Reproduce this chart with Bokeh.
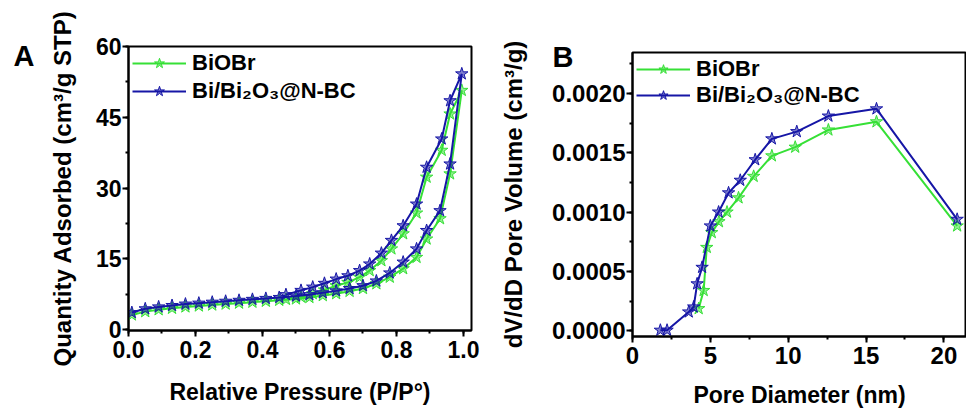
from bokeh.plotting import figure
from bokeh.models import (Range1d, SingleIntervalTicker, PrintfTickFormatter,
                          Legend, LegendItem, Title)
from bokeh.layouts import row
from bokeh.embed import file_html
from bokeh.resources import INLINE

# ---------------- data: panel A (N2 isotherms) ----------------
p_ads = [0.01, 0.05, 0.09, 0.13, 0.17, 0.21, 0.25, 0.29, 0.33, 0.37, 0.41, 0.45,
         0.50, 0.54, 0.58, 0.62, 0.66, 0.70, 0.74, 0.78, 0.82, 0.86, 0.89, 0.93,
         0.96, 0.995]
p_des = [0.96, 0.935, 0.89, 0.86, 0.82, 0.785, 0.755, 0.72, 0.69, 0.655, 0.62,
         0.585, 0.55, 0.515, 0.47]

biobr_ads = [3.1, 3.8, 4.2, 4.5, 4.8, 5.0, 5.2, 5.4, 5.6, 5.8, 6.0, 6.2,
             6.5, 6.8, 7.2, 7.6, 8.1, 8.7, 9.7, 11.1, 12.9, 15.3, 19.2, 23.5,
             33.0, 50.7]
biobr_des = [45.7, 38.0, 32.3, 24.7, 20.3, 17.1, 14.6, 12.5, 11.1, 10.0, 9.3,
             8.4, 7.6, 6.9, 6.4]

bibc_ads = [3.6, 4.4, 4.8, 5.1, 5.4, 5.6, 5.8, 6.0, 6.2, 6.4, 6.6, 6.8,
            7.1, 7.4, 7.8, 8.2, 8.7, 9.3, 10.3, 12.0, 14.3, 17.1, 21.0, 25.2,
            35.1, 54.2]
bibc_des = [48.5, 40.4, 34.4, 26.6, 22.0, 18.9, 16.2, 13.9, 12.5, 11.4, 10.7,
            9.8, 9.0, 8.3, 7.4]

# ---------------- data: panel B (pore size distribution) ----------------
d_biobr = [4.25, 4.57, 4.77, 5.09, 5.55, 6.07, 6.81, 7.78, 8.95, 10.45, 12.58,
           15.67, 20.85]
v_biobr = [0.000187, 0.00034, 0.000703, 0.000828, 0.00092, 0.001001, 0.001121,
           0.001302, 0.001475, 0.001548, 0.001693, 0.001762, 0.000884]

d_bibc = [1.79, 2.22, 3.61, 3.93, 4.15, 4.47, 5.0, 5.53, 6.17, 6.92, 7.88,
          8.95, 10.55, 12.58, 15.67, 20.85]
v_bibc = [0.000005, 0.000005, 0.000159, 0.000201, 0.000396, 0.000535, 0.000884,
          0.001001, 0.001163, 0.001269, 0.001442, 0.001618, 0.001679, 0.00181,
          0.001871, 0.00094]

labels = ["BiOBr", "Bi/Bi\u2082O\u2083@N-BC"]
panel_letters = ["A", "B"]
GREEN = "#36E036"
BLUE = "#1616A6"
FONT = "Liberation Sans"


def style_axes(p, tick_size, xtitle_size="23px", ytitle_size="24px"):
    for ax in (p.xaxis[0], p.yaxis[0]):
        ax.axis_line_width = 2
        ax.axis_line_color = "black"
        ax.major_tick_line_width = 2
        ax.minor_tick_line_width = 2
        ax.major_tick_out = 6
        ax.major_tick_in = 0
        ax.minor_tick_out = 3
        ax.minor_tick_in = 0
        ax.major_label_text_font = FONT
        ax.major_label_text_font_style = "bold"
        ax.major_label_text_font_size = tick_size
        ax.major_label_text_color = "black"
        ax.axis_label_text_font = FONT
        ax.axis_label_text_font_style = "bold"
        ax.axis_label_text_color = "black"
    p.xaxis.axis_label_text_font_size = xtitle_size
    p.yaxis.axis_label_text_font_size = ytitle_size
    p.xgrid.visible = False
    p.ygrid.visible = False
    p.outline_line_color = "black"
    p.outline_line_width = 2
    p.background_fill_color = "white"
    p.border_fill_color = "white"


def add_legend(p, items, margin, glyph_h, spacing):
    leg = Legend(items=items, location="top_left", margin=margin, padding=0,
                 glyph_width=54, glyph_height=glyph_h, label_standoff=6,
                 spacing=spacing, border_line_alpha=0, background_fill_alpha=0,
                 label_text_font=FONT, label_text_font_style="bold",
                 label_text_font_size="22px", label_text_color="black",
                 label_height=glyph_h)
    p.add_layout(leg, "center")


def letter(text, offset, standoff):
    return Title(text=text, align="left", offset=offset, standoff=standoff,
                 vertical_align="bottom", text_font=FONT, text_font_style="bold",
                 text_font_size="29px", text_color="black")


# ---------------- panel A ----------------
pa = figure(width=480, height=410, output_backend="svg", toolbar_location=None,
            x_range=Range1d(0, 1.024), y_range=Range1d(-0.2, 60),
            min_border_left=128, min_border_right=9, min_border_top=46,
            min_border_bottom=80, frame_align=False)
style_axes(pa, "23px")
pa.xaxis.ticker = SingleIntervalTicker(interval=0.2, num_minor_ticks=2)
pa.yaxis.ticker = SingleIntervalTicker(interval=15, num_minor_ticks=2)
pa.xaxis.formatter = PrintfTickFormatter(format="%.1f")
pa.xaxis.axis_label = "Relative Pressure (P/P\u00b0)"
pa.yaxis.axis_label = "Quantity Adsorbed (cm\u00b3/g STP)"
pa.xaxis.major_label_standoff = 4
pa.yaxis.major_label_standoff = 1
pa.xaxis.axis_label_standoff = 18
pa.yaxis.axis_label_standoff = 17
pa.title = letter(panel_letters[0], offset=-115, standoff=-50)

items_a = []
for xs, ys, col, lab in [(p_ads + p_des, biobr_ads + biobr_des, GREEN, labels[0]),
                         (p_ads + p_des, bibc_ads + bibc_des, BLUE, labels[1])]:
    ln = pa.line(xs, ys, line_color=col, line_width=2)
    sc = pa.scatter(xs, ys, marker="star", size=13, line_color=col,
                    fill_color=col, fill_alpha=0.55, line_width=1)
    items_a.append(LegendItem(label=lab, renderers=[ln, sc]))
add_legend(pa, items_a, margin=4, glyph_h=26, spacing=2)

# ---------------- panel B ----------------
pb = figure(width=486, height=410, output_backend="svg", toolbar_location=None,
            x_range=Range1d(0, 21.45), y_range=Range1d(-0.000048, 0.002346),
            min_border_left=152, min_border_right=0, min_border_top=52,
            min_border_bottom=72, frame_align=False)
style_axes(pb, "24px")
pb.xaxis.ticker = SingleIntervalTicker(interval=5, num_minor_ticks=2)
pb.yaxis.ticker = SingleIntervalTicker(interval=0.0005, num_minor_ticks=2)
pb.yaxis.formatter = PrintfTickFormatter(format="%.4f")
pb.xaxis.axis_label = "Pore Diameter (nm)"
pb.yaxis.axis_label = "dV/dD Pore Volume (cm\u00b3/g)"
pb.xaxis.major_label_standoff = 4
pb.yaxis.major_label_standoff = 1
pb.xaxis.axis_label_standoff = 15
pb.yaxis.axis_label_standoff = 22
pb.title = letter(panel_letters[1], offset=-80, standoff=-40)

items_b = []
for xs, ys, col, lab in [(d_biobr, v_biobr, GREEN, labels[0]),
                         (d_bibc, v_bibc, BLUE, labels[1])]:
    ln = pb.line(xs, ys, line_color=col, line_width=2)
    sc = pb.scatter(xs, ys, marker="star", size=13, line_color=col,
                    fill_color=col, fill_alpha=0.55, line_width=1)
    items_b.append(LegendItem(label=lab, renderers=[ln, sc]))
add_legend(pb, items_b, margin=4, glyph_h=24, spacing=-2)

layout = row(pa, pb)
open("out.html", "w").write(file_html(layout, INLINE))
